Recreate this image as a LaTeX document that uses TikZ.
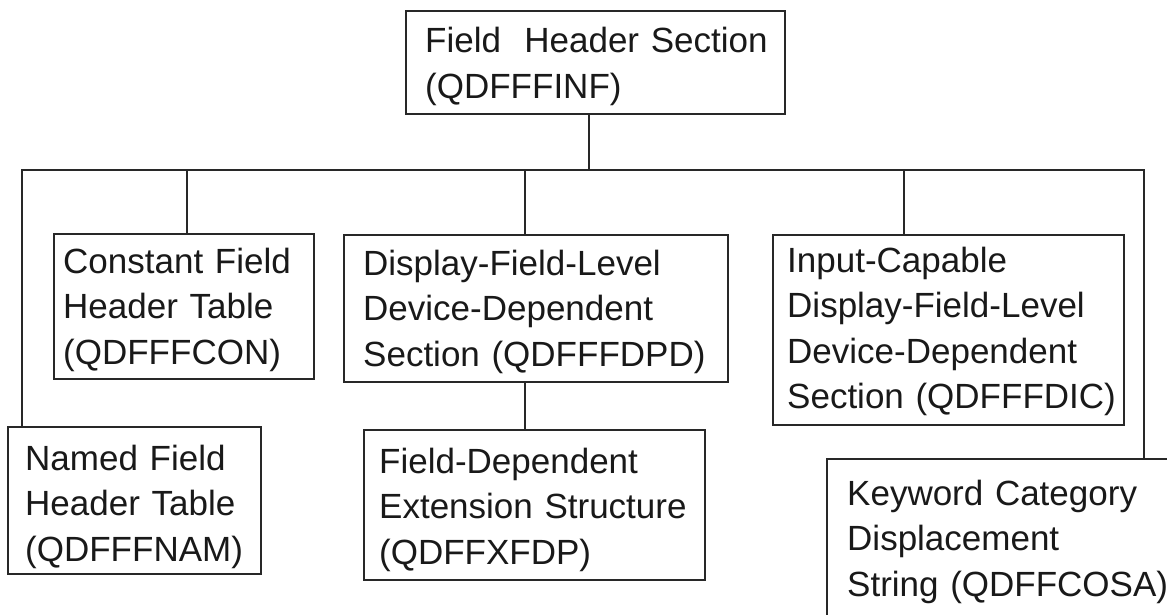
\documentclass[tikz,border=0pt]{standalone}
\usepackage{fontspec}
\setmainfont{Liberation Sans}[WordSpace=0.8]
\definecolor{linecol}{RGB}{40,40,40}
\begin{document}
\begin{tikzpicture}[x=1pt,y=-1pt,
  box/.style={draw=linecol, line width=1.6pt, anchor=north west, inner sep=0pt},
  txt/.style={anchor=base west, align=left, inner sep=0pt, text width=420pt,
    text=black!90, font=\fontsize{35}{45.5}\selectfont},
  conn/.style={draw=linecol, line width=1.6pt, line cap=rect}]
\useasboundingbox (0,0) rectangle (1167,615);
\clip (0,0) rectangle (1167,615);
\fill[white] (0,0) rectangle (1167,615);

% boxes
\node[box, minimum width=379pt, minimum height=103pt] (top)   at (405,10)  {};
\node[box, minimum width=260pt, minimum height=145pt] (const) at (53,233)  {};
\node[box, minimum width=384pt, minimum height=147pt] (disp)  at (343,234) {};
\node[box, minimum width=351pt, minimum height=190pt] (inp)   at (772,234) {};
\node[box, minimum width=253pt, minimum height=147pt] (named) at (7,426)   {};
\node[box, minimum width=341pt, minimum height=150pt] (fdep)  at (363,429) {};
\node[box, minimum width=400pt, minimum height=168pt] (kw)    at (826,458) {};

% texts
\node[txt] (topT)   at (425,53)  {Field~~Header Section\\(QDFFFINF)};
\node[txt] (constT) at (63,273)  {Constant Field\\Header Table\\(QDFFFCON)};
\node[txt] (dispT)  at (363,275) {Display-Field-Level\\Device-Dependent\\Section (QDFFFDPD)};
\node[txt] (inpT)   at (787,272) {Input-Capable\\Display-Field-Level\\Device-Dependent\\Section (QDFFFDIC)};
\node[txt] (namedT) at (25,470)  {Named Field\\Header Table\\(QDFFFNAM)};
\node[txt] (fdepT)  at (379,473) {Field-Dependent\\Extension Structure\\(QDFFXFDP)};
\node[txt] (kwT)    at (847,505) {Keyword Category\\Displacement\\String (QDFFCOSA)};

% connectors
\coordinate (bus) at (589,170);
\coordinate (busL) at (22,170);
\coordinate (busR) at (1144,170);
\coordinate (bC) at (187,170);
\coordinate (bD) at (525,170);
\coordinate (bI) at (904,170);

\draw[conn] (top.south -| bus) -- (bus);
\draw[conn] (busL |- named.north) -- (busL) -- (busR) -- (busR |- kw.north);
\draw[conn] (bC) -- (bC |- const.north);
\draw[conn] (bD) -- (bD |- disp.north);
\draw[conn] (bI) -- (bI |- inp.north);
\draw[conn] (disp.south -| bD) -- (bD |- fdep.north);
\end{tikzpicture}
\end{document}
